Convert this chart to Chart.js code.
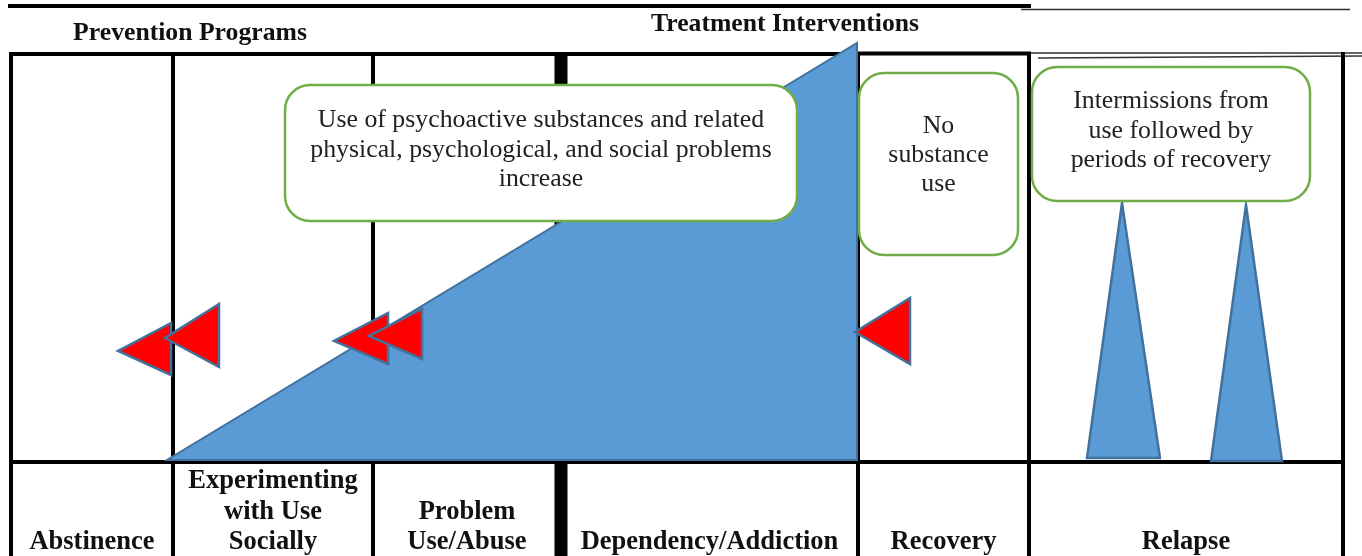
<!DOCTYPE html>
<html>
<head>
<meta charset="utf-8">
<style>
html,body{margin:0;padding:0;background:#fff;overflow:hidden}
#wrap{width:1362px;height:556px;position:relative}
</style>
<script src="https://cdn.jsdelivr.net/npm/chart.js@4.4.1/dist/chart.umd.min.js"></script>
</head>
<body>
<div id="wrap"><canvas id="c"></canvas></div>
<script>
// ---- Diagram values (diagram units: x 0..1362 left->right, y 0..556 top->bottom)
const stageLabels = [
  ['Abstinence'],
  ['Experimenting', 'with Use', 'Socially'],
  ['Problem', 'Use/Abuse'],
  ['Dependency/Addiction'],
  ['Recovery'],
  ['Relapse']
];
const stageEdges = [11, 173, 373, 561, 858, 1029, 1343];
const gridRows = [54, 462, 556];           // top of grid, top of stage-label row, bottom
const programHeaders = ['Prevention Programs', 'Treatment Interventions'];
const programHeaderAt = [[190, 40], [785, 31]];

// growth of use (big blue wedge)
const useGrowth = [[167, 460], [857, 460], [857, 43]];
// relapse spikes
const relapseSpikes = [
  [[1122, 203], [1160, 458], [1087, 458]],
  [[1246, 205], [1282, 461], [1211, 461]]
];
// intervention arrows (red)
const interventionArrows = [
  [[118, 351], [171, 323], [171, 375]],
  [[165, 338], [219, 304], [219, 367]],
  [[334, 341], [388, 313], [388, 364]],
  [[369, 336], [422, 309], [422, 359]],
  [[855, 332], [910, 298], [910, 364]]
];
// call-out notes
const noteTexts = [
  ['Use of psychoactive substances and related', 'physical, psychological, and social problems', 'increase'],
  ['No', 'substance', 'use'],
  ['Intermissions from', 'use followed by', 'periods of recovery']
];
const noteBoxes = [[285, 85, 797, 221], [859, 73, 1018, 255], [1032, 67, 1310, 201]];
const noteBaselines = [[127, 157, 186], [133, 162, 191], [108, 138, 167]];

// ---- helpers
const pts = arr => arr.map(p => ({x: p[0], y: p[1]}));
const closed = arr => pts([...arr, arr[0], arr[1]]);

function segs(list) { // list of [[x1,y1],[x2,y2]] -> points with gaps
  const out = [];
  list.forEach((s, i) => { if (i) out.push({x: s[0][0], y: null}); out.push(...pts(s)); });
  return out;
}

const gridSegments = [];
[0, 1, 2, 4, 5, 6].forEach(i => gridSegments.push([[stageEdges[i], gridRows[0]], [stageEdges[i], gridRows[2]]]));
gridSegments.push([[stageEdges[0], gridRows[1]], [stageEdges[6], gridRows[1]]]);
gridSegments.push([[stageEdges[0], gridRows[0]], [stageEdges[4], gridRows[0]]]);
gridSegments.push([[stageEdges[4], gridRows[0] - 0.5], [stageEdges[5], gridRows[0] - 0.5]]);
gridSegments.push([[10, 6], [1029, 6]]);

const thinSegments = [
  [[1021, 9.5], [1350, 9.5]],
  [[1029, 53], [1362, 53]],
  [[1038, 58], [1362, 56]]
];

const datasets = [];
datasets.push({ data: segs(gridSegments), borderColor: '#000', borderWidth: 4, borderCapStyle: 'square', order: 20 });
datasets.push({ data: segs([[[stageEdges[3], gridRows[0]], [stageEdges[3], gridRows[2]]]]), borderColor: '#000', borderWidth: 13, order: 20 });
datasets.push({ data: segs(thinSegments), borderColor: '#333', borderWidth: 1.5, order: 20 });
datasets.push({ data: closed(useGrowth), fill: 'shape', backgroundColor: '#5B9BD5', borderColor: '#41719C', borderWidth: 2, order: 10 });
relapseSpikes.forEach(t => datasets.push({ data: closed(t), fill: 'shape', backgroundColor: '#5B9BD5', borderColor: '#41719C', borderWidth: 2.5, order: 10 }));
interventionArrows.forEach((t, i) => datasets.push({ data: closed(t), fill: 'shape', backgroundColor: '#FF0000', borderColor: '#41719C', borderWidth: 2.5, order: 5 - i * 0.1 }));
datasets.forEach(d => Object.assign(d, { pointRadius: 0, tension: 0, borderJoinStyle: 'miter', clip: false, spanGaps: false }));

function roundRect(ctx, x, y, w, h, r) {
  ctx.beginPath();
  ctx.moveTo(x + r, y);
  ctx.arcTo(x + w, y, x + w, y + h, r);
  ctx.arcTo(x + w, y + h, x, y + h, r);
  ctx.arcTo(x, y + h, x, y, r);
  ctx.arcTo(x, y, x + w, y, r);
  ctx.closePath();
}

const diagramText = {
  id: 'diagramText',
  afterDatasetsDraw(chart) {
    const { ctx, scales: { x, y } } = chart;
    ctx.save();
    ctx.textAlign = 'center';
    ctx.textBaseline = 'alphabetic';
    // notes
    noteBoxes.forEach((b, i) => {
      const l = x.getPixelForValue(b[0]), t = y.getPixelForValue(b[1]);
      const r = x.getPixelForValue(b[2]), bt = y.getPixelForValue(b[3]);
      roundRect(ctx, l, t, r - l, bt - t, 25);
      ctx.fillStyle = '#fff'; ctx.fill();
      ctx.lineWidth = 2.5; ctx.strokeStyle = '#70AD47'; ctx.stroke();
      ctx.fillStyle = '#222';
      ctx.font = '25.8px "Liberation Serif", serif';
      const cx = x.getPixelForValue((b[0] + b[2]) / 2);
      noteTexts[i].forEach((line, j) => ctx.fillText(line, cx, y.getPixelForValue(noteBaselines[i][j])));
    });
    // stage labels
    ctx.fillStyle = '#111';
    ctx.font = 'bold 26.5px "Liberation Serif", serif';
    stageLabels.forEach((lines, i) => {
      const cx = x.getPixelForValue((stageEdges[i] + stageEdges[i + 1]) / 2);
      lines.forEach((line, j) => {
        const base = 549 - (lines.length - 1 - j) * 30.5;
        ctx.fillText(line, cx, y.getPixelForValue(base));
      });
    });
    // program headers
    ctx.font = 'bold 25.7px "Liberation Serif", serif';
    programHeaders.forEach((h, i) => {
      ctx.fillText(h, x.getPixelForValue(programHeaderAt[i][0]), y.getPixelForValue(programHeaderAt[i][1]));
    });
    ctx.restore();
  }
};

new Chart(document.getElementById('c'), {
  type: 'line',
  data: { datasets },
  options: {
    responsive: true,
    maintainAspectRatio: false,
    animation: false,
    events: [],
    layout: { padding: 0 },
    plugins: { legend: { display: false }, tooltip: { enabled: false } },
    scales: {
      x: { type: 'linear', min: 0, max: 1362, display: false },
      y: { type: 'linear', min: 0, max: 556, reverse: true, display: false }
    }
  },
  plugins: [diagramText]
});
</script>
</body>
</html>
